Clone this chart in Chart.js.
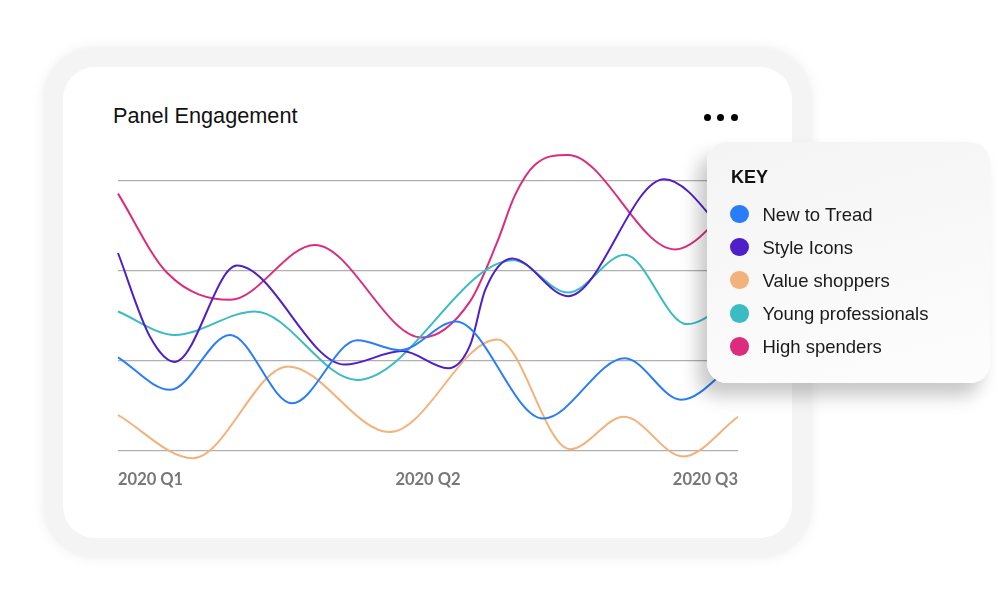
<!DOCTYPE html>
<html>
<head>
<meta charset="utf-8">
<title>Panel Engagement</title>
<script src="https://cdn.jsdelivr.net/npm/chart.js@4.4.1/dist/chart.umd.min.js"></script>
<style>
  html, body { margin: 0; padding: 0; background: #fff; }
  #stage { position: relative; width: 1000px; height: 604px; overflow: hidden; background: #fff;
           font-family: "Liberation Sans", Arial, sans-serif; }
  #card { position: absolute; left: 63px; top: 67px; width: 729px; height: 471px; border-radius: 32px;
          background: #fff; box-shadow: 0 0 2px 20px #f4f4f4, 0 0 10px 22px rgba(236,236,236,0.6); }
  #title { position: absolute; left: 113px; top: 105px; font-size: 21.7px; line-height: 1; color: #111; }
  .dot3 { position: absolute; top: 114px; width: 7px; height: 7px; border-radius: 50%; background: #000; }
  #chart { position: absolute; left: 0; top: 0; z-index: 1; }
  #key { position: absolute; left: 707px; top: 142px; width: 283px; height: 241px; border-radius: 20px;
         background: linear-gradient(165deg, #f4f4f4 0%, #f9f9f9 55%, #fdfdfd 100%);
         box-shadow: -9px 13px 18px rgba(0,0,0,0.22); z-index: 2; }
  #keyTitle { position: absolute; left: 24px; top: 26px; font-size: 18px; font-weight: bold; line-height: 1; color: #111; }
  .keyRow { position: absolute; left: 0; height: 33px; width: 283px; }
  .keyDot { position: absolute; left: 23px; top: 7.2px; width: 18.6px; height: 18.6px; border-radius: 50%; }
  .keyText { position: absolute; left: 55.5px; top: 0; line-height: 33px; font-size: 18.5px; color: #1a1a1a; white-space: nowrap; }
</style>
</head>
<body>
<div id="stage">
  <div id="card"></div>
  <div id="title">Panel Engagement</div>
  <div class="dot3" style="left:703.8px"></div>
  <div class="dot3" style="left:717.2px"></div>
  <div class="dot3" style="left:730.8px"></div>
  <canvas id="chart" width="1000" height="604"></canvas>
  <div id="key"><div id="keyTitle">KEY</div></div>
</div>
<script>
// ---- Data (x in days from 2020 Q1, y in engagement index) ----
const quarterLabels = ['2020 Q1', '2020 Q2', '2020 Q3'];
const quarterDays = [0, 91, 182];

const seriesNames = ['New to Tread', 'Style Icons', 'Value shoppers', 'Young professionals', 'High spenders'];
const seriesColors = ['#2a7df8', '#4f1fc9', '#f3b27b', '#3bbcc3', '#dd2b7d'];

const newToTreadX = [0, 15.3, 32.9, 51.1, 70.2, 82.8, 99.2, 124.8, 148.8, 165.3, 182];
const newToTreadY = [10.4, 6.8, 12.9, 5.3, 12.3, 11.2, 14.4, 3.6, 10.3, 5.7, 10.1];

const styleIconsX = [0, 9.4, 16.7, 34.9, 66.6, 83.4, 96.9, 103.4, 107.8, 115.7, 132.1, 160.3, 182];
const styleIconsY = [22.0, 12.7, 9.9, 20.6, 9.6, 11.1, 9.2, 11.8, 17.9, 21.4, 17.2, 30.2, 22.6];

const valueShoppersX = [0, 22.0, 49.9, 79.8, 111.3, 132.7, 148.5, 165.9, 182];
const valueShoppersY = [4.0, -0.8, 9.4, 2.1, 12.4, 0.2, 3.8, -0.6, 3.8];

const youngProfessionalsX = [0, 16.7, 40.2, 70.2, 116.0, 132.1, 148.8, 167.0, 182];
const youngProfessionalsY = [15.5, 12.9, 15.5, 7.9, 21.2, 17.6, 21.8, 14.1, 17.3];

const highSpendersX = [0, 14.4, 32.9, 57.8, 89.2, 103.3, 111.3, 116.5, 122.4, 132.1, 163.5, 182];
const highSpendersY = [28.6, 19.8, 16.8, 22.9, 12.6, 16.6, 23.2, 28.4, 31.8, 32.9, 22.4, 27.9];

const yGridValues = [0, 10, 20, 30];

// ---- Build ----
const seriesX = [newToTreadX, styleIconsX, valueShoppersX, youngProfessionalsX, highSpendersX];
const seriesY = [newToTreadY, styleIconsY, valueShoppersY, youngProfessionalsY, highSpendersY];

const datasets = seriesNames.map((name, i) => ({
  label: name,
  data: seriesX[i].map((x, j) => ({ x: x, y: seriesY[i][j] })),
  borderColor: seriesColors[i],
  backgroundColor: seriesColors[i],
  borderWidth: 2,
  pointRadius: 0,
  pointHoverRadius: 0,
  fill: false,
  cubicInterpolationMode: 'monotone',
  capBezierPoints: false,
  clip: false
}));

const chart = new Chart(document.getElementById('chart'), {
  type: 'line',
  data: { datasets: datasets },
  options: {
    responsive: false,
    animation: false,
    devicePixelRatio: 1,
    layout: { padding: { left: 118, right: 262, top: 181, bottom: 103 } },
    plugins: { legend: { display: false }, tooltip: { enabled: false }, title: { display: false } },
    elements: { line: { capBezierPoints: false } },
    scales: {
      x: {
        type: 'linear',
        min: quarterDays[0],
        max: quarterDays[quarterDays.length - 1],
        afterBuildTicks: (s) => { s.ticks = quarterDays.map(v => ({ value: v })); },
        afterFit: (s) => { s.height = 50; },
        grid: { display: false, drawTicks: false },
        border: { display: false },
        ticks: {
          align: 'inner',
          autoSkip: false,
          maxRotation: 0,
          padding: 19,
          color: '#787878',
          font: { family: 'Lato', weight: 'bold', size: 16.5 },
          callback: (v, idx) => quarterLabels[idx]
        }
      },
      y: {
        min: yGridValues[0],
        max: yGridValues[yGridValues.length - 1],
        afterBuildTicks: (s) => { s.ticks = yGridValues.map(v => ({ value: v })); },
        afterFit: (s) => { s.width = 0; },
        grid: { color: '#b0b0b0', lineWidth: 1.2, drawTicks: false },
        border: { display: false },
        ticks: { display: false }
      }
    }
  }
});

// ---- HTML key built from the chart datasets ----
const key = document.getElementById('key');
chart.data.datasets.forEach((ds, i) => {
  const row = document.createElement('div');
  row.className = 'keyRow';
  row.style.top = (55.5 + 33.1 * i) + 'px';
  const dot = document.createElement('div');
  dot.className = 'keyDot';
  dot.style.background = ds.borderColor;
  const txt = document.createElement('div');
  txt.className = 'keyText';
  txt.textContent = ds.label;
  row.appendChild(dot);
  row.appendChild(txt);
  key.appendChild(row);
});
</script>
</body>
</html>
